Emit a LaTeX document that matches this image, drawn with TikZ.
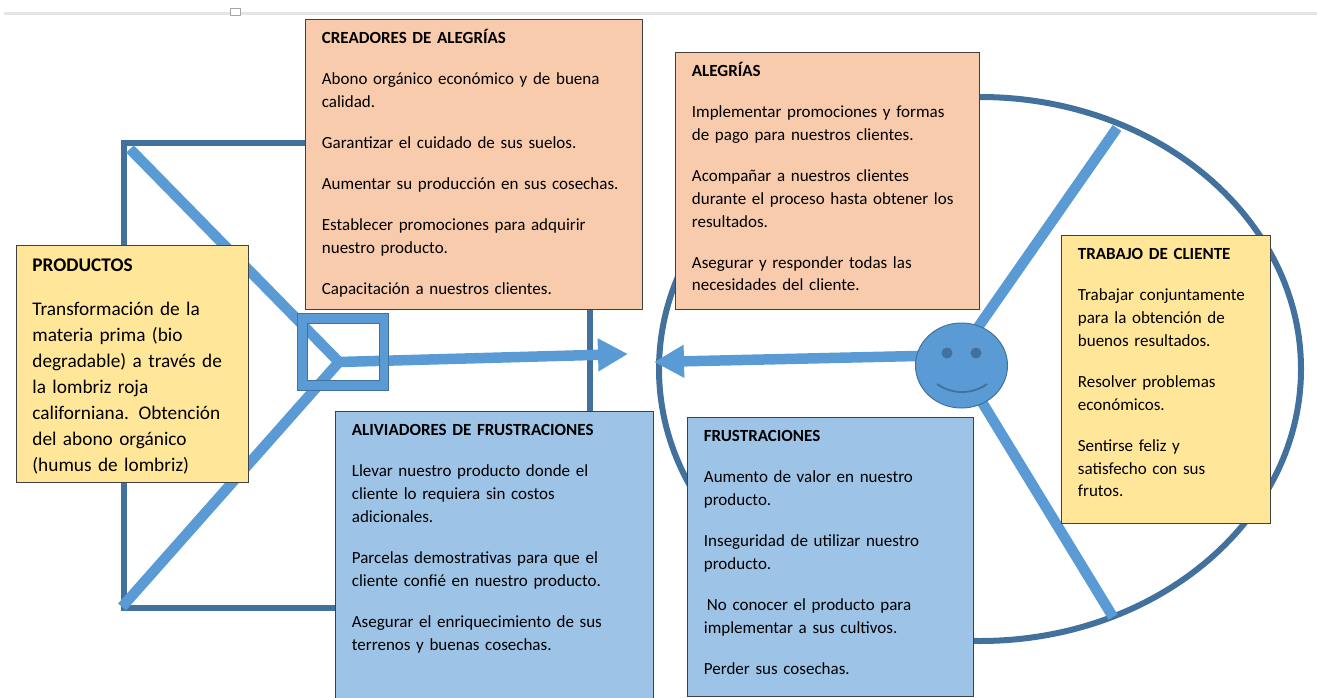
\documentclass[tikz,border=0pt]{standalone}
\usepackage{fontspec}
\setmainfont{Carlito}
\usetikzlibrary{arrows.meta,shapes.geometric}
\definecolor{linkblue}{HTML}{5B9BD5}
\definecolor{darkblue}{HTML}{41719C}
\definecolor{peach}{HTML}{F8CBAD}
\definecolor{sand}{HTML}{FFE699}
\definecolor{skyblue}{HTML}{9DC3E6}

\begin{document}
\begin{tikzpicture}[x=1pt,y=-1pt]
    \tikzstyle{outline}=[draw=darkblue, line width=6pt, inner sep=0pt]
    \tikzstyle{link}=[draw=linkblue, line width=10.5pt]
    \tikzstyle{flow}=[link, -{Triangle[length=30pt,width=31pt]}]
    \tikzstyle{eye}=[circle, fill=darkblue, minimum size=11pt, inner sep=0pt]
    \tikzstyle{box}=[rectangle, draw=black!75, line width=0.8pt, anchor=north west, align=left,
      inner xsep=16.5pt, inner ysep=0pt, text height=24pt, font=\fontsize{17}{22.9}\selectfont]
    \useasboundingbox (0,0) rectangle (1317,698);

      % page edge
      \fill[black!10] (4,12) rectangle (1317,15);
      \draw[black!35, fill=white] (230,8) rectangle (240,15);

      % value map and customer profile
      \node[outline, rectangle, minimum width=466pt, minimum height=465pt] (map) at (357,375.5) {};
      \node[outline, ellipse, minimum width=642pt, minimum height=544pt] (profile) at (980,369) {};

      \coordinate (mapa) at (130,149);
      \coordinate (mapb) at (122,607);
      \coordinate (hub) at (339,362);
      \coordinate (hubend) at (628,354);
      \coordinate (facein) at (961,355);
      \coordinate (faceend) at (654,362);
      \coordinate (faceup) at (951,366);
      \coordinate (facedown) at (960,366);
      \coordinate (jobsa) at (1117,128);
      \coordinate (jobsb) at (1113,617);

      \path (mapa) edge [link] (hub);
      \path (mapb) edge [link] (hub);
      \path (hub) edge [flow] (hubend);
      \path (facein) edge [flow] (faceend);
      \path (faceup) edge [link] (jobsa);
      \path (facedown) edge [link] (jobsb);

      \node[ellipse, fill=linkblue, draw=darkblue, line width=1pt, minimum width=92pt, minimum height=85pt, inner sep=0pt] (face) at (961.5,365.5) {};
      \node[eye] (eyea) at (947,353) {};
      \node[eye] (eyeb) at (976,353) {};
      \draw[darkblue, line width=1.8pt] (937,384) .. controls (952,394.7) and (972,394.7) .. (987,384);

      % small square
      \draw[fill=linkblue, draw=darkblue, line width=1pt, even odd rule]
        (297,313) rectangle (388,390) (307,323) rectangle (379,380);

      \node[box, fill=peach, text width=304pt, text depth=266pt] (creators) at (305,19) {\textbf{CREADORES DE ALEGRÍAS}\\[18.1pt]
        Abono orgánico económico y de buena\\calidad.\\[18.1pt]
        Garantizar el cuidado de sus suelos.\\[18.1pt]
        Aumentar su producción en sus cosechas.\\[18.1pt]
        Establecer promociones para adquirir\\nuestro producto.\\[18.1pt]
        Capacitación a nuestros clientes.};
      \node[box, fill=peach, text width=271pt, text depth=233pt] (gains) at (675,52) {\textbf{ALEGRÍAS}\\[18.1pt]
        Implementar promociones y formas\\de pago para nuestros clientes.\\[18.1pt]
        Acompañar a nuestros clientes\\durante el proceso hasta obtener los\\resultados.\\[18.1pt]
        Asegurar y responder todas las\\necesidades del cliente.};
      \node[box, fill=sand, text width=199pt, text depth=211pt, text height=26pt, font=\fontsize{19.3}{26}\selectfont] (products) at (15.5,245) {\textbf{PRODUCTOS}\\[18pt]
        Transformación de la\\materia prima (bio\\degradable) a través de\\la lombriz roja\\californiana. Obtención\\del abono orgánico\\(humus de lombriz)};
      \node[box, fill=sand, text width=176pt, text depth=264pt] (jobs) at (1061,235) {\textbf{TRABAJO DE CLIENTE}\\[18.1pt]
        Trabajar conjuntamente\\para la obtención de\\buenos resultados.\\[18.1pt]
        Resolver problemas\\económicos.\\[18.1pt]
        Sentirse feliz y\\satisfecho con sus\\frutos.};
      \node[box, fill=skyblue, text width=285pt, text depth=263pt] (relievers) at (335,411) {\textbf{ALIVIADORES DE FRUSTRACIONES}\\[18.1pt]
        Llevar nuestro producto donde el\\cliente lo requiera sin costos\\adicionales.\\[18.1pt]
        Parcelas demostrativas para que el\\cliente confié en nuestro producto.\\[18.1pt]
        Asegurar el enriquecimiento de sus\\terrenos y buenas cosechas.};
      \node[box, fill=skyblue, text width=253pt, text depth=255pt] (pains) at (687,417) {\textbf{FRUSTRACIONES}\\[18.1pt]
        Aumento de valor en nuestro\\producto.\\[18.1pt]
        Inseguridad de utilizar nuestro\\producto.\\[18.1pt]
        \hspace*{3pt}No conocer el producto para\\implementar a sus cultivos.\\[18.1pt]
        Perder sus cosechas.};
    \end{tikzpicture}
\end{document}
